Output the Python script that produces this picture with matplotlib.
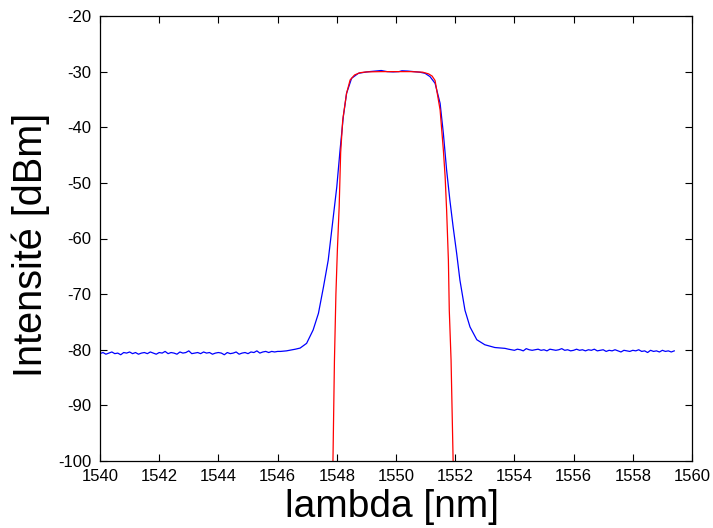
import matplotlib
matplotlib.use("Agg")
import matplotlib.pyplot as plt

plt.rcParams["font.family"] = ["Liberation Sans", "DejaVu Sans"]
plt.rcParams["axes.unicode_minus"] = False

# measured spectrum (blue) - left noise floor, 1540.0 .. 1546.0 nm
floor_left_x = [
    1540.0, 1540.1, 1540.2, 1540.3, 1540.4, 1540.5, 1540.6, 1540.7, 1540.8, 1540.9,
    1541.0, 1541.1, 1541.2, 1541.3, 1541.4, 1541.5, 1541.6, 1541.7, 1541.8, 1541.9,
    1542.0, 1542.1, 1542.2, 1542.3, 1542.4, 1542.5, 1542.6, 1542.7, 1542.8, 1542.9,
    1543.0, 1543.1, 1543.2, 1543.3, 1543.4, 1543.5, 1543.6, 1543.7, 1543.8, 1543.9,
    1544.0, 1544.1, 1544.2, 1544.3, 1544.4, 1544.5, 1544.6, 1544.7, 1544.8, 1544.9,
    1545.0, 1545.1, 1545.2, 1545.3, 1545.4, 1545.5, 1545.6, 1545.7, 1545.8, 1545.9,
    1546.0,
]
floor_left_y = [
    -80.7, -80.5, -80.8, -80.6, -80.4, -80.7, -80.6, -80.9, -80.5, -80.6,
    -80.4, -80.7, -80.5, -80.8, -80.6, -80.5, -80.7, -80.4, -80.6, -80.8,
    -80.5, -80.6, -80.3, -80.7, -80.5, -80.6, -80.8, -80.4, -80.6, -80.5,
    -80.2, -80.7, -80.6, -80.5, -80.7, -80.4, -80.6, -80.5, -80.8, -80.6,
    -80.5, -80.6, -80.9, -80.5, -80.7, -80.6, -80.4, -80.8, -80.6, -80.5,
    -80.7, -80.4, -80.5, -80.2, -80.6, -80.4, -80.3, -80.5, -80.3, -80.4,
    -80.3,
]

# measured spectrum - passband (rising edge, top, falling edge)
band_x = [
    1546.1, 1546.2, 1546.3, 1546.4, 1546.5, 1546.6, 1546.76, 1546.98, 1547.2, 1547.38,
    1547.55, 1547.71, 1547.88, 1548.0, 1548.11, 1548.22, 1548.33, 1548.5, 1548.73, 1548.9,
    1549.1, 1549.3, 1549.5, 1549.7, 1549.9, 1550.1, 1550.2, 1550.4, 1550.6, 1550.8,
    1550.98, 1551.15, 1551.32, 1551.49, 1551.6, 1551.71, 1551.82, 1551.93, 1552.05, 1552.16,
    1552.33, 1552.5, 1552.73, 1553.0, 1553.34, 1553.68,
]
band_y = [
    -80.3, -80.25, -80.2, -80.1, -80.0, -79.9, -79.7, -78.85, -76.45, -73.45,
    -68.7, -63.9, -56.1, -50.7, -44.1, -38.1, -33.9, -31.2, -30.3, -30.15,
    -30.0, -29.9, -29.8, -30.0, -30.05, -30.0, -29.85, -29.9, -30.0, -30.1,
    -30.3, -30.9, -32.1, -35.7, -41.1, -47.7, -53.1, -57.9, -62.7, -67.5,
    -72.9, -75.9, -78.2, -79.1, -79.6, -79.75,
]

# measured spectrum - right noise floor, 1553.8 .. 1559.4 nm
floor_right_x = [
    1553.8, 1553.9, 1554.0, 1554.1, 1554.2, 1554.3, 1554.4, 1554.5, 1554.6, 1554.7,
    1554.8, 1554.9, 1555.0, 1555.1, 1555.2, 1555.3, 1555.4, 1555.5, 1555.6, 1555.7,
    1555.8, 1555.9, 1556.0, 1556.1, 1556.2, 1556.3, 1556.4, 1556.5, 1556.6, 1556.7,
    1556.8, 1556.9, 1557.0, 1557.1, 1557.2, 1557.3, 1557.4, 1557.5, 1557.6, 1557.7,
    1557.8, 1557.9, 1558.0, 1558.1, 1558.2, 1558.3, 1558.4, 1558.5, 1558.6, 1558.7,
    1558.8, 1558.9, 1559.0, 1559.1, 1559.2, 1559.3, 1559.4,
]
floor_right_y = [
    -79.9, -80.0, -80.1, -79.9, -80.0, -80.2, -79.8, -80.0, -80.1, -80.0,
    -79.9, -80.1, -80.0, -80.2, -79.9, -80.0, -80.1, -80.0, -79.8, -80.1,
    -80.0, -80.2, -80.1, -79.9, -80.1, -80.0, -80.2, -80.0, -80.1, -79.9,
    -80.2, -80.1, -80.0, -80.3, -80.1, -80.2, -80.0, -80.2, -80.4, -80.1,
    -80.2, -80.3, -80.1, -80.2, -80.0, -80.3, -80.2, -80.5, -80.1, -80.3,
    -80.2, -80.4, -80.1, -80.3, -80.2, -80.4, -80.2,
]

# filter model (red)
model_x = [
    1547.85, 1547.87, 1547.92, 1547.97, 1548.02, 1548.08, 1548.13, 1548.2, 1548.33, 1548.45,
    1548.6, 1548.78, 1549.0, 1549.5, 1550.0, 1550.5, 1550.9, 1551.1, 1551.22, 1551.32,
    1551.49, 1551.6, 1551.66, 1551.71, 1551.77, 1551.8, 1551.86, 1551.93, 1551.95,
]
model_y = [
    -110, -100, -82, -70, -62, -54.3, -44.6, -38.7, -33.9, -31.5,
    -30.6, -30.2, -30.05, -30.0, -30.0, -30.0, -30.1, -30.4, -30.8, -31.6,
    -36.9, -44.1, -48.9, -54.9, -63.9, -72.9, -81.8, -100, -110,
]

meas_x = floor_left_x + band_x + floor_right_x
meas_y = floor_left_y + band_y + floor_right_y

fig = plt.figure(figsize=(7.13, 5.28), dpi=100)
ax = fig.add_axes([100 / 713, 67 / 528, 592 / 713, 445 / 528])

ax.plot(meas_x, meas_y, color=(0, 0, 1), linewidth=0.9)
ax.plot(model_x, model_y, color=(1, 0, 0), linewidth=0.9)

ax.set_xlim(1540, 1560)
ax.set_ylim(-100, -20)
ax.set_xticks(range(1540, 1561, 2))
ax.set_yticks(range(-100, -19, 10))
ax.tick_params(direction="in", length=5, width=0.8, top=True, right=True,
               labelsize=12, pad=6)
for s in ax.spines.values():
    s.set_linewidth(0.9)

ax.set_xlabel("lambda [nm]", fontsize=28)
ax.set_ylabel("Intensité [dBm]", fontsize=28.5)
ax.xaxis.set_label_coords(0.494, -0.064)
ax.yaxis.set_label_coords(-0.0845, 0.485)

fig.savefig("out.png", dpi=100)
plt.close(fig)
